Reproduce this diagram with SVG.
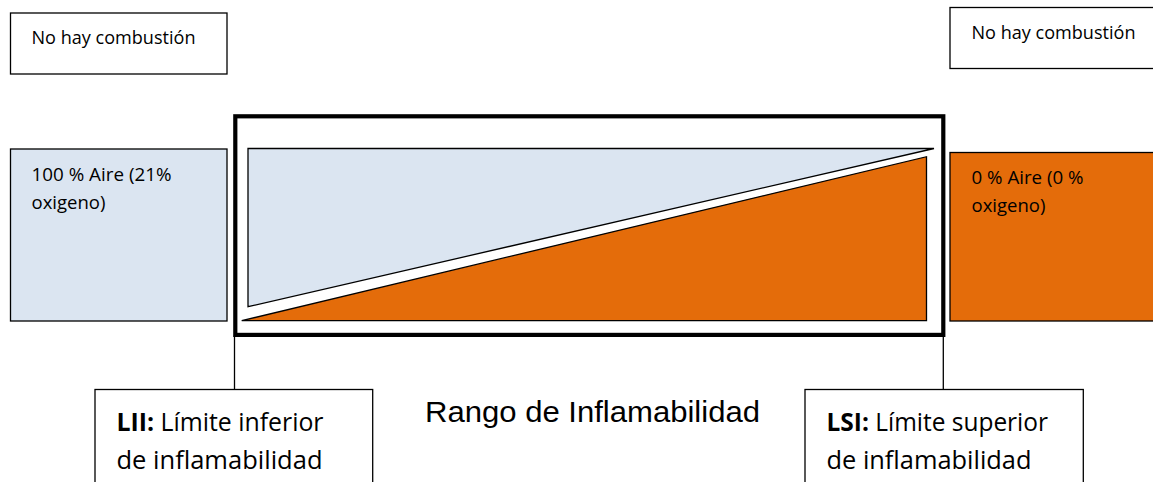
<svg xmlns="http://www.w3.org/2000/svg" width="1153" height="482" viewBox="0 0 1153 482">
<style>
.box{stroke:#000;stroke-width:1.3}
.white{fill:#fff}
.blue{fill:#dbe5f1}
.orange{fill:#e46c0a}
.t{font-family:"Open Sans","Noto Sans","Liberation Sans",sans-serif;fill:#000}
.s{font-size:18.5px}
.l{font-size:25px}
.b{font-weight:bold}
.conn{stroke:#000;stroke-width:1.3;fill:none}
</style>
<rect width="1153" height="482" fill="#fff"/>
<g id="no-combustion-left">
<rect class="box white" x="10.5" y="13" width="216.5" height="61"/>
<text class="t s" x="31.5" y="44" textLength="164" lengthAdjust="spacingAndGlyphs">No hay combustión</text>
</g>
<g id="no-combustion-right">
<rect class="box white" x="950" y="7.5" width="220" height="61"/>
<text class="t s" x="971.5" y="39" textLength="164" lengthAdjust="spacingAndGlyphs">No hay combustión</text>
</g>
<g id="aire-100">
<rect class="box blue" x="10.5" y="149" width="216.5" height="172"/>
<text class="t s" x="31.5" y="181" textLength="140" lengthAdjust="spacingAndGlyphs">100 % Aire (21%</text>
<text class="t s" x="31.5" y="209">oxigeno)</text>
</g>
<g id="aire-0">
<rect class="box orange" x="950" y="152.5" width="220" height="168.5"/>
<text class="t s" x="971.5" y="184" textLength="112" lengthAdjust="spacingAndGlyphs">0 % Aire (0 %</text>
<text class="t s" x="971.5" y="212">oxigeno)</text>
</g>
<g id="rango">
<rect x="235.3" y="116.3" width="708" height="218.6" fill="#fff" stroke="#000" stroke-width="4.2"/>
<polygon class="box blue" points="248,148.5 934,148.5 248,306.7"/>
<polygon class="box orange" points="241.7,320.7 926.5,156.7 926.5,320.7"/>
</g>
<g id="connectors">
<line class="conn" x1="234.5" y1="335" x2="234.5" y2="389.5"/>
<line class="conn" x1="943.3" y1="335" x2="943.3" y2="389.5"/>
</g>
<g id="lii">
<rect class="box white" x="95" y="389.5" width="277.7" height="100"/>
<text class="t l" x="116.5" y="431" textLength="207" lengthAdjust="spacingAndGlyphs"><tspan class="b">LII:</tspan> Límite inferior</text>
<text class="t l" x="116.5" y="469" textLength="206" lengthAdjust="spacingAndGlyphs">de inflamabilidad</text>
</g>
<g id="lsi">
<rect class="box white" x="805" y="389.5" width="278.3" height="100"/>
<text class="t l" x="826.5" y="431" textLength="221.5" lengthAdjust="spacingAndGlyphs"><tspan class="b">LSI:</tspan> Límite superior</text>
<text class="t l" x="826.5" y="469" textLength="205" lengthAdjust="spacingAndGlyphs">de inflamabilidad</text>
</g>
<g id="rango-label">
<text x="425" y="421.7" font-family="'Liberation Sans',Arial,sans-serif" font-size="29" textLength="335" lengthAdjust="spacingAndGlyphs" fill="#000">Rango de Inflamabilidad</text>
</g>
</svg>
